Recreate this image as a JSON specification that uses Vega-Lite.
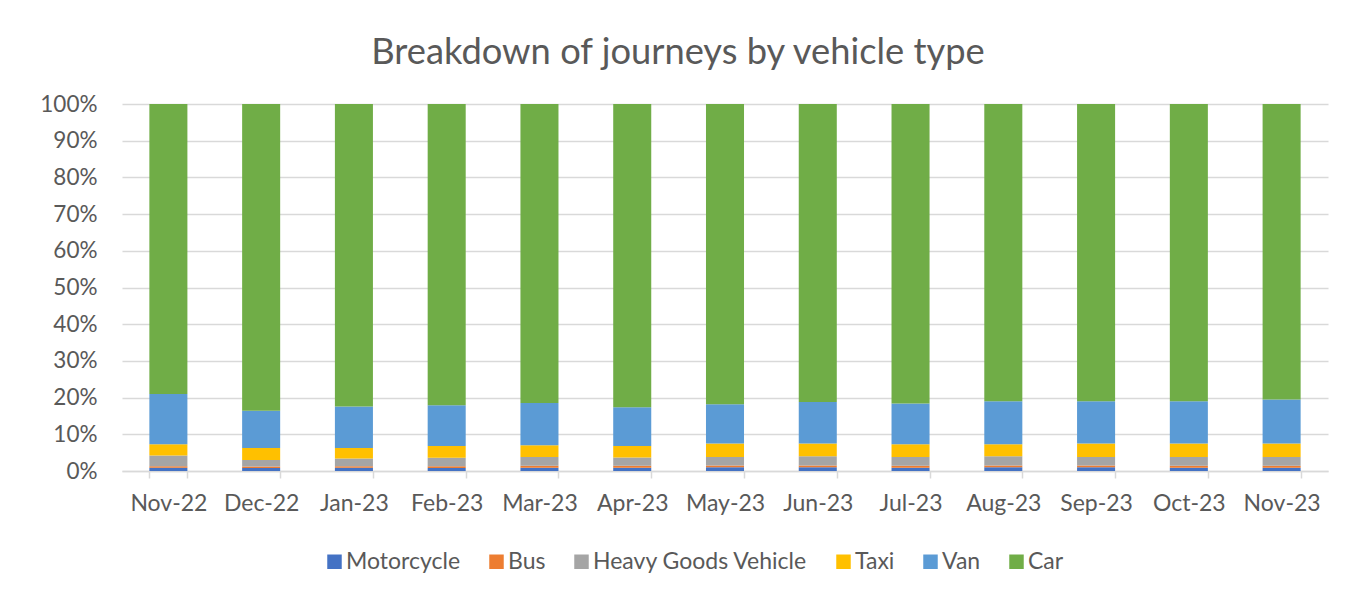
{
  "$schema": "https://vega.github.io/schema/vega-lite/v6.json",
  "width": 1206,
  "height": 367,
  "autosize": {"type": "none"},
  "padding": {"left": 122, "top": 104, "right": 18, "bottom": 130},
  "background": "white",
  "title": {
    "text": "Breakdown of journeys by vehicle type",
    "font": "Lato",
    "fontSize": 36.3,
    "fontWeight": "normal",
    "color": "#595959",
    "anchor": "middle",
    "frame": "group",
    "dx": -47,
    "baseline": "alphabetic",
    "offset": -7
  },
  "data": {
    "values": [
      {"month": "Nov-22", "Motorcycle": 0.9, "Bus": 0.4, "Heavy Goods Vehicle": 2.9, "Taxi": 3.1, "Van": 13.7, "Car": 79.0},
      {"month": "Dec-22", "Motorcycle": 0.8, "Bus": 0.4, "Heavy Goods Vehicle": 1.8, "Taxi": 3.3, "Van": 10.1, "Car": 83.6},
      {"month": "Jan-23", "Motorcycle": 0.9, "Bus": 0.4, "Heavy Goods Vehicle": 2.1, "Taxi": 2.9, "Van": 11.3, "Car": 82.4},
      {"month": "Feb-23", "Motorcycle": 0.8, "Bus": 0.5, "Heavy Goods Vehicle": 2.3, "Taxi": 3.2, "Van": 11.1, "Car": 82.1},
      {"month": "Mar-23", "Motorcycle": 0.9, "Bus": 0.5, "Heavy Goods Vehicle": 2.4, "Taxi": 3.2, "Van": 11.5, "Car": 81.5},
      {"month": "Apr-23", "Motorcycle": 0.9, "Bus": 0.5, "Heavy Goods Vehicle": 2.3, "Taxi": 3.1, "Van": 10.6, "Car": 82.6},
      {"month": "May-23", "Motorcycle": 1.0, "Bus": 0.5, "Heavy Goods Vehicle": 2.3, "Taxi": 3.7, "Van": 10.7, "Car": 81.8},
      {"month": "Jun-23", "Motorcycle": 1.0, "Bus": 0.5, "Heavy Goods Vehicle": 2.5, "Taxi": 3.5, "Van": 11.3, "Car": 81.2},
      {"month": "Jul-23", "Motorcycle": 0.9, "Bus": 0.5, "Heavy Goods Vehicle": 2.4, "Taxi": 3.5, "Van": 11.1, "Car": 81.6},
      {"month": "Aug-23", "Motorcycle": 1.0, "Bus": 0.5, "Heavy Goods Vehicle": 2.5, "Taxi": 3.3, "Van": 11.7, "Car": 81.0},
      {"month": "Sep-23", "Motorcycle": 1.0, "Bus": 0.5, "Heavy Goods Vehicle": 2.3, "Taxi": 3.7, "Van": 11.5, "Car": 81.0},
      {"month": "Oct-23", "Motorcycle": 0.9, "Bus": 0.5, "Heavy Goods Vehicle": 2.4, "Taxi": 3.7, "Van": 11.5, "Car": 81.0},
      {"month": "Nov-23", "Motorcycle": 0.9, "Bus": 0.5, "Heavy Goods Vehicle": 2.4, "Taxi": 3.7, "Van": 12.0, "Car": 80.5}
    ]
  },
  "transform": [
    {"fold": ["Motorcycle", "Bus", "Heavy Goods Vehicle", "Taxi", "Van", "Car"], "as": ["type", "share"]},
    {"window": [{"op": "row_number", "as": "stackRank"}], "groupby": ["month"]}
  ],
  "mark": {"type": "bar"},
  "encoding": {
    "x": {
      "field": "month",
      "type": "nominal",
      "sort": null,
      "scale": {"paddingInner": 0.59, "paddingOuter": 0.295},
      "axis": {
        "title": null,
        "labelAngle": 0,
        "labelFont": "Lato",
        "labelFontSize": 23,
        "labelColor": "#595959",
        "labelPadding": 14,
        "domainColor": "#d9d9d9",
        "domainWidth": 1.5,
        "tickColor": "#d9d9d9",
        "tickWidth": 1.5,
        "tickSize": 7,
        "tickBand": "extent",
        "grid": false
      }
    },
    "y": {
      "field": "share",
      "type": "quantitative",
      "stack": "normalize",
      "scale": {"domain": [0, 1]},
      "axis": {
        "title": null,
        "format": ".0%",
        "values": [0, 0.1, 0.2, 0.3, 0.4, 0.5, 0.6, 0.7, 0.8, 0.9, 1],
        "labelFont": "Lato",
        "labelFontSize": 22.5,
        "labelColor": "#595959",
        "labelPadding": 25,
        "ticks": false,
        "tickSize": 0,
        "domain": false,
        "grid": true,
        "gridColor": "#d9d9d9",
        "gridWidth": 1.5
      }
    },
    "color": {
      "field": "type",
      "type": "nominal",
      "sort": ["Motorcycle", "Bus", "Heavy Goods Vehicle", "Taxi", "Van", "Car"],
      "scale": {
        "domain": ["Motorcycle", "Bus", "Heavy Goods Vehicle", "Taxi", "Van", "Car"],
        "range": ["#4472C4", "#ED7D31", "#A5A5A5", "#FFC000", "#5B9BD5", "#70AD47"]
      },
      "legend": {
        "title": null,
        "orient": "none",
        "direction": "horizontal",
        "columns": 6,
        "legendX": 201,
        "legendY": 446,
        "padding": 0,
        "symbolType": "square",
        "symbolSize": 210,
        "symbolStrokeWidth": 0,
        "symbolOpacity": 1,
        "labelFont": "Lato",
        "labelFontSize": 23,
        "labelColor": "#595959",
        "labelOffset": 0,
        "columnPadding": 24,
        "labelLimit": 400
      }
    },
    "order": {"field": "stackRank", "type": "quantitative", "sort": "ascending"}
  },
  "config": {"view": {"stroke": null}}
}
